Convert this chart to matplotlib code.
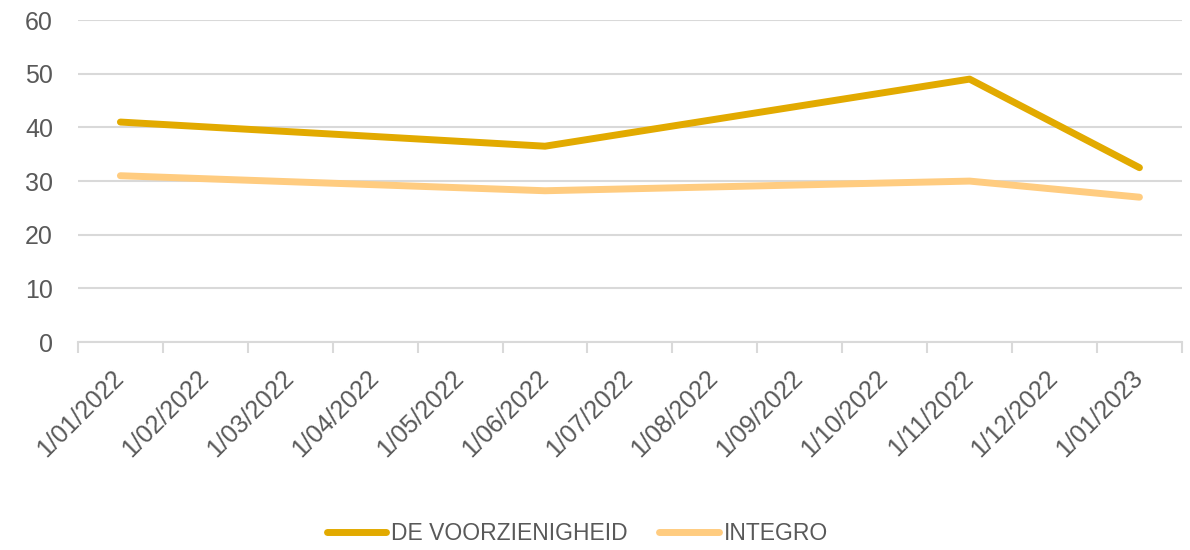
import numpy as np
import matplotlib.pyplot as plt
import matplotlib.transforms as mtransforms

# maanden op de categorie-as
months = ['1/01/2022', '1/02/2022', '1/03/2022', '1/04/2022', '1/05/2022',
          '1/06/2022', '1/07/2022', '1/08/2022', '1/09/2022', '1/10/2022',
          '1/11/2022', '1/12/2022', '1/01/2023']

# meetmomenten en waarden per reeks
point_dates = ['1/01/2022', '1/06/2022', '1/11/2022', '1/01/2023']
voorzienigheid = [41, 36.5, 49, 32.5]
integro = [31, 28.2, 30, 27]

c_dark = '#E2AA00'
c_light = '#FFCC80'
c_grid = '#D9D9D9'
c_text = '#595959'

plt.rcParams['font.family'] = ['Liberation Sans', 'DejaVu Sans']

fig = plt.figure(figsize=(11.9, 5.5), dpi=100)
ax = fig.add_axes([0.0655, 0.378, 0.9277, 0.5855])

x = [months.index(d) for d in point_dates]
ax.plot(x, voorzienigheid, color=c_dark, lw=5, solid_capstyle='round',
        solid_joinstyle='round', label='DE VOORZIENIGHEID', zorder=3)
ax.plot(x, integro, color=c_light, lw=5, solid_capstyle='round',
        solid_joinstyle='round', label='INTEGRO', zorder=3)

ax.set_ylim(0, 60)
ax.set_yticks(np.arange(0, 61, 10))
ax.set_xlim(-0.5, len(months) - 0.5)

# horizontale rasterlijnen
ax.grid(axis='y', color=c_grid, lw=1.5)
ax.set_axisbelow(True)
for s in ['top', 'right', 'left']:
    ax.spines[s].set_visible(False)
ax.spines['bottom'].set_color(c_grid)
ax.spines['bottom'].set_linewidth(1.5)

# tickmarks tussen de categorieen, labels in het midden
ax.set_xticks(np.arange(-0.5, len(months), 1.0))
ax.set_xticklabels([])
ax.tick_params(axis='x', which='major', length=8, width=1.5, color=c_grid)
ax.set_xticks(np.arange(len(months)), minor=True)
ax.set_xticklabels(months, minor=True, rotation=45, ha='right', va='top',
                   rotation_mode='anchor', fontsize=18, color=c_text)
ax.tick_params(axis='x', which='minor', length=0, pad=10)
shift = mtransforms.ScaledTranslation(-9 / 100, -10 / 100, fig.dpi_scale_trans)
for lbl in ax.get_xticklabels(minor=True):
    lbl.set_transform(lbl.get_transform() + shift)
ax.tick_params(axis='y', length=0, labelsize=18, labelcolor=c_text, pad=18)

fig.legend(loc='lower center', bbox_to_anchor=(0.485, -0.028), ncol=2,
           frameon=False, fontsize=16.5, labelcolor=c_text,
           handlelength=2.6, handletextpad=0.2, columnspacing=1.4)

fig.savefig('out.png', dpi=100)
